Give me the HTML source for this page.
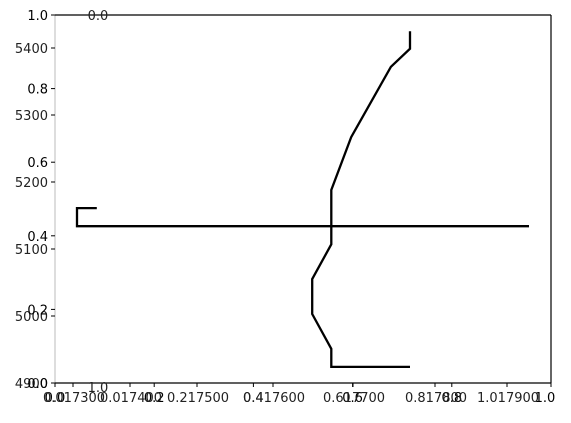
<!DOCTYPE html>
<html><head><meta charset="utf-8"><style>
body{margin:0;background:#fff;width:571px;height:418px;overflow:hidden;font-family:"Liberation Sans","DejaVu Sans",sans-serif;}
svg text{font-family:"DejaVu Sans","Liberation Sans",sans-serif;font-size:13px;fill:#222;}
</style></head><body>
<svg id="chart" width="571" height="418" xmlns="http://www.w3.org/2000/svg">
<g id="g"></g>
</svg>
<script>
const xValsA = [0.17791,0.17680,0.17680,0.17653,0.17653,0.17680,0.17680,0.17959,0.17321,0.17321,0.17349];
const yValsA = [4924,4924,4951,5003,5055,5107,5134,5134,5134,5161,5161];
const xValsB = [0.17680,0.17680,0.17708,0.17764,0.17791,0.17791];
const yValsB = [5134,5188,5267,5372,5399,5425];
const yTicks = [4900,5000,5100,5200,5300,5400];
const fracTicks = [0,0.2,0.4,0.6,0.8,1.0];
const fracLabels = ["0.0","0.2","0.4","0.6","0.8","1.0"];
const xDataLabels = ["0.017300","0.017400","0.217500","0.417600","0.617700","0.817800","1.017900"];
const xDataLabelLeft = [43,100,167,243,323,405,477];

const L=55,R=551,T=15,B=383;
const xs = v => L + (v-0.1729)/0.007*(R-L);
const ys = v => B - (v-4900)*0.67;
const fx = f => L + f*(R-L);
const fy = f => B - f*(B-T);
const NS="http://www.w3.org/2000/svg";
const g=document.getElementById('g');
function mk(t,a){const e=document.createElementNS(NS,t);for(const k in a)e.setAttribute(k,a[k]);g.appendChild(e);return e;}

let e;
e=mk('line',{x1:L,y1:T,x2:L,y2:B,stroke:'#bbb','stroke-width':1});


e=mk('line',{x1:L,y1:T,x2:R,y2:T,stroke:'#000','stroke-width':1.2});


e=mk('line',{x1:R,y1:T,x2:R,y2:B,stroke:'#000','stroke-width':1.2});


e=mk('line',{x1:L,y1:B,x2:R,y2:B,stroke:'#000','stroke-width':1.2});



yTicks.forEach(v=>{
  const y=ys(v);
  e=mk('line',{x1:L-4,y1:y,x2:L,y2:y,stroke:'#000'});
  
  
  e=mk('text',{x:L-7,y:y+5,'text-anchor':'end'});e.textContent=v;
  
  
});
fracTicks.forEach((f,i)=>{
  const y=fy(f);
  e=mk('line',{x1:L-4,y1:y,x2:L,y2:y,stroke:'#000'});
  
  
  e=mk('text',{x:L-7,y:y+5,'text-anchor':'end',style:'fill:#000'});e.textContent=fracLabels[i];
  
  
  const x=fx(f);
  e=mk('line',{x1:x,y1:B,x2:x,y2:B+4,stroke:'#000'});
  
  
  e=mk('text',{x:i==5?545:x,y:B+19,'text-anchor':'middle',style:'fill:#000'});e.textContent=fracLabels[i];
  
  
});
xDataLabels.forEach((s,i)=>{
  e=mk('text',{x:xDataLabelLeft[i],y:B+19});e.textContent=s;
  
  
  const tx=xDataLabelLeft[i]+30;
  e=mk('line',{x1:tx,y1:B,x2:tx,y2:B+4,stroke:'#000'});
  
  
});
e=mk('text',{x:98,y:392,'text-anchor':'middle'});e.textContent='1.0';


e=mk('text',{x:98,y:20,'text-anchor':'middle'});e.textContent='0.0';



function poly(xv,yv,name){
  const p=xv.map((v,i)=>xs(v).toFixed(1)+','+ys(yv[i]).toFixed(1)).join(' ');
  const el=mk('polyline',{points:p,fill:'none',stroke:'#000','stroke-width':2.3,'stroke-linejoin':'miter'});
  
  
}
poly(xValsA,yValsA,'profile-line-lower');
poly(xValsB,yValsB,'profile-line-upper');
</script>
</body></html>
